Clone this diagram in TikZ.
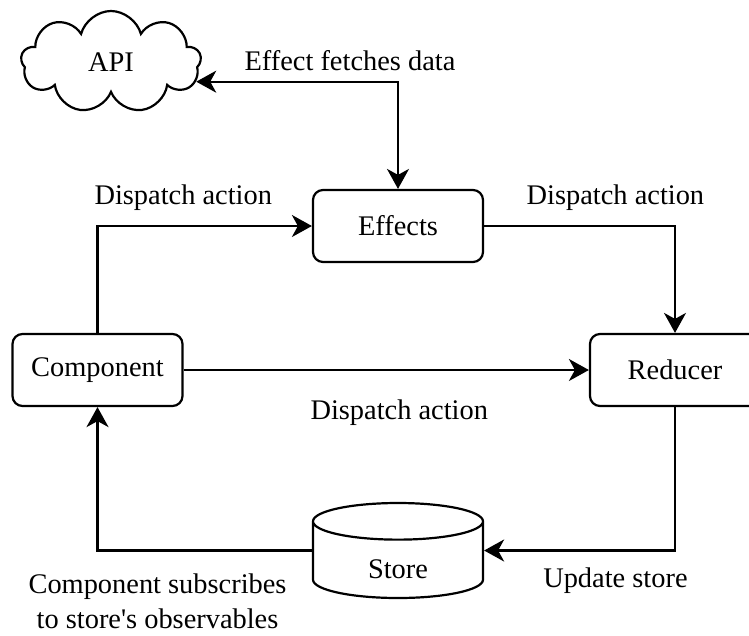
\documentclass[tikz,border=0pt]{standalone}
\usepackage{fontspec}
\setmainfont{Liberation Serif}
\usetikzlibrary{arrows.meta,positioning,shapes.geometric,shapes.symbols}

\begin{document}
\begin{tikzpicture}[->, >={Stealth[length=20pt,width=22pt,inset=6pt]}, x=1pt, y=-1pt, line width=2.2pt, font=\fontsize{28.4}{35}\selectfont]
\tikzstyle{block}=[draw, rounded corners=10pt, minimum width=170pt, minimum height=72pt, inner sep=0pt]
\useasboundingbox (0,0) rectangle (749,635);
\node[block]    (Eff)  at (398,226)   {Effects};
\node[block]    (Comp) at (97.5,370)  {Component};
\node[block]    (Red)  at (675,370)   {Reducer};
\node[draw, cloud, cloud puffs=9, minimum width=180pt, minimum height=102pt] (API) at (111,62) {API};
\node[draw, cylinder, shape border rotate=90, aspect=0.55, minimum width=170pt, minimum height=95pt, text height=32pt, text depth=0pt, anchor=shape center] (Store) at (398,550.5) {Store};
\draw[<->] (API.-13) -| node[pos=0.381, anchor=base, yshift=11pt] {Effect fetches data} (Eff);
\draw (Comp) |- node[pos=0.7, anchor=base, yshift=22pt] {Dispatch action} (Eff);
\draw (Eff) -| node[pos=0.344, anchor=base, yshift=22pt] {Dispatch action} (Red);
\draw (Comp) -- node[pos=0.532, anchor=base, yshift=-49pt] {Dispatch action} (Red);
\draw (Red) |- node[pos=0.656, anchor=base, yshift=-37pt] {Update store} (Store.east |- Store.shape center);
\draw (Store.west |- Store.shape center) -| node[pos=0.36, anchor=base, yshift=-78pt, align=center] {Component subscribes\\to store\textquotesingle s observables} (Comp);
\end{tikzpicture}
\end{document}
